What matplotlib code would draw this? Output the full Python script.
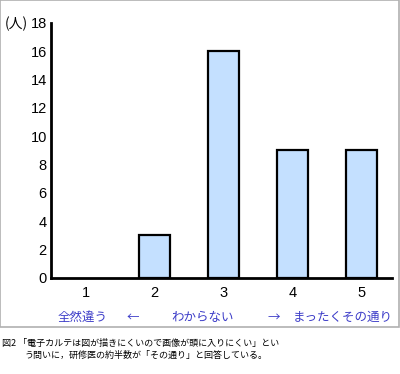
import matplotlib
matplotlib.use('Agg')
import matplotlib.pyplot as plt
from matplotlib.patches import Rectangle

plt.rcParams['font.family'] = ['Noto Sans CJK JP', 'DejaVu Sans']

# data
categories = [1, 2, 3, 4, 5]
counts = [0, 3, 16, 9, 9]
yticks = [0, 2, 4, 6, 8, 10, 12, 14, 16, 18]
scale_labels = ['全然違う', '←', 'わからない', '→', 'まったくその通り']
scale_pos = [0.96, 1.69, 2.69, 3.72, 4.73]
caption1 = '図2 「電子カルテは図が描きにくいので画像が頭に入りにくい」とい'
caption2 = 'う問いに，研修医の約半数が「その通り」と回答している。'

fig = plt.figure(figsize=(4, 3.74), dpi=100)
ax = fig.add_axes([0.1275, 0.2567, 0.8525, 0.682])

edges = ['black' if c > 0 else 'none' for c in counts]
ax.bar(categories, counts, width=0.45, color='#c4e0ff', edgecolor=edges, linewidth=1.6)
ax.set_xlim(0.5, 5.44)
ax.set_ylim(0, 18)
ax.set_yticks(yticks)
ax.set_xticks(categories)
ax.tick_params(length=0, labelsize=10.5, pad=3)
ax.tick_params(axis='x', pad=6)
for lab in ax.get_xticklabels() + ax.get_yticklabels():
    lab.set_family('Liberation Sans')
for s in ['top', 'right']:
    ax.spines[s].set_visible(False)
for s in ['left', 'bottom']:
    ax.spines[s].set_linewidth(2)

fig.text(5 / 400, 1 - 24 / 374, '(人)', ha='left', va='center', fontsize=10)

for p, lab in zip(scale_pos, scale_labels):
    ax.text(p, -2.8, lab, ha='center', va='center', fontsize=9, color='#3c3cc8')

# gray frame around the chart area
fig.patches.append(Rectangle((0.001, 0.126), 0.997, 0.873, transform=fig.transFigure,
                             fill=False, edgecolor='#b0b0b0', linewidth=1.2))

fig.text(0.005, 1 - 343 / 374, caption1, ha='left', va='center', fontsize=6.5)
fig.text(0.062, 1 - 355 / 374, caption2, ha='left', va='center', fontsize=6.5)

fig.savefig('out.png', dpi=100)
